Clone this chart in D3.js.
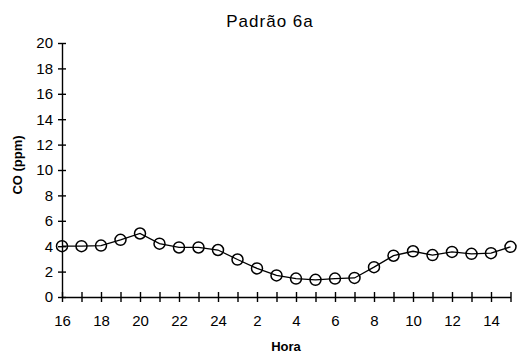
<!DOCTYPE html>
<html>
<head>
<meta charset="utf-8">
<script src="https://d3js.org/d3.v7.min.js"></script>
<style>
    body { margin: 0; background: #fff; }
    text { font-family: "Liberation Sans", Arial, sans-serif; fill: #000; }
    .axis path, .axis line { stroke: #000; stroke-width: 1.4; }
</style>
</head>
<body>
<script>
//pseudo-global data
var hours = [16, 17, 18, 19, 20, 21, 22, 23, 24, 1, 2, 3, 4, 5, 6, 7, 8, 9, 10, 11, 12, 13, 14, 15]; //hour of day
var coValues = [4.0, 4.0, 4.05, 4.5, 5.0, 4.2, 3.9, 3.9, 3.7, 2.95, 2.25, 1.7, 1.45, 1.35, 1.45, 1.5, 2.35, 3.25, 3.6, 3.3, 3.55, 3.4, 3.45, 3.95]; //CO (ppm)
var hourLabels = ["16", "18", "20", "22", "24", "2", "4", "6", "8", "10", "12", "14"];
var yTicks = [0, 2, 4, 6, 8, 10, 12, 14, 16, 18, 20];

window.onload = setChart();

function setChart(){
    var width = 517,
        height = 356,
        left = 62,
        top = 43,
        innerWidth = 448.5,
        innerHeight = 254;

    var svg = d3.select("body")
        .append("svg")
        .attr("width", width)
        .attr("height", height);

    //x is position by index so 24 -> 1 wraps correctly
    var xScale = d3.scaleLinear()
        .domain([0, hours.length - 1])
        .range([left, left + innerWidth]);

    var yScale = d3.scaleLinear()
        .domain([0, 20])
        .range([top + innerHeight, top]);

    //y axis with crossing ticks
    var yAxis = svg.append("g")
        .attr("class", "axis")
        .attr("transform", "translate(" + left + ",0)")
        .call(d3.axisLeft(yScale).tickValues(yTicks).tickSize(0).tickPadding(0).tickSizeOuter(0));
    yAxis.selectAll(".tick line")
        .attr("x1", -4)
        .attr("x2", 4);
    yAxis.selectAll(".tick text")
        .attr("x", -9)
        .style("font-size", "15px");

    //x axis: a tick per hour, label every second hour
    var xAxis = svg.append("g")
        .attr("class", "axis")
        .attr("transform", "translate(0," + (top + innerHeight) + ")")
        .call(d3.axisBottom(xScale)
            .tickValues(d3.range(hours.length))
            .tickSize(0)
            .tickSizeOuter(0)
            .tickFormat(function(d){
                return d % 2 == 0 ? hourLabels[d / 2] : "";
            }));
    xAxis.selectAll(".tick line")
        .attr("y1", -5)
        .attr("y2", 5);
    xAxis.selectAll(".tick text")
        .attr("y", 18)
        .style("font-size", "15px");

    //line connecting the points
    var line = d3.line()
        .x(function(d, i){ return xScale(i); })
        .y(function(d){ return yScale(d); });

    svg.append("path")
        .datum(coValues)
        .attr("d", line)
        .attr("fill", "none")
        .attr("stroke", "#000")
        .attr("stroke-width", 1.3);

    //open circle markers
    svg.selectAll(".dots")
        .data(coValues)
        .enter()
        .append("circle")
        .attr("class", "dots")
        .attr("cx", function(d, i){ return xScale(i); })
        .attr("cy", function(d){ return yScale(d); })
        .attr("r", 5.5)
        .attr("fill", "none")
        .attr("stroke", "#000")
        .attr("stroke-width", 1.5);

    //title and axis labels
    svg.append("text")
        .attr("x", 270)
        .attr("y", 27)
        .attr("text-anchor", "middle")
        .style("font-size", "17px")
        .style("letter-spacing", "1px")
        .text("Padrão 6a");

    svg.append("text")
        .attr("x", 286)
        .attr("y", 351)
        .attr("text-anchor", "middle")
        .style("font-size", "13px")
        .style("font-weight", "bold")
        .text("Hora");

    svg.append("text")
        .attr("transform", "translate(22,165) rotate(-90)")
        .attr("text-anchor", "middle")
        .style("font-size", "13px")
        .style("font-weight", "bold")
        .text("CO (ppm)");
};
</script>
</body>
</html>
